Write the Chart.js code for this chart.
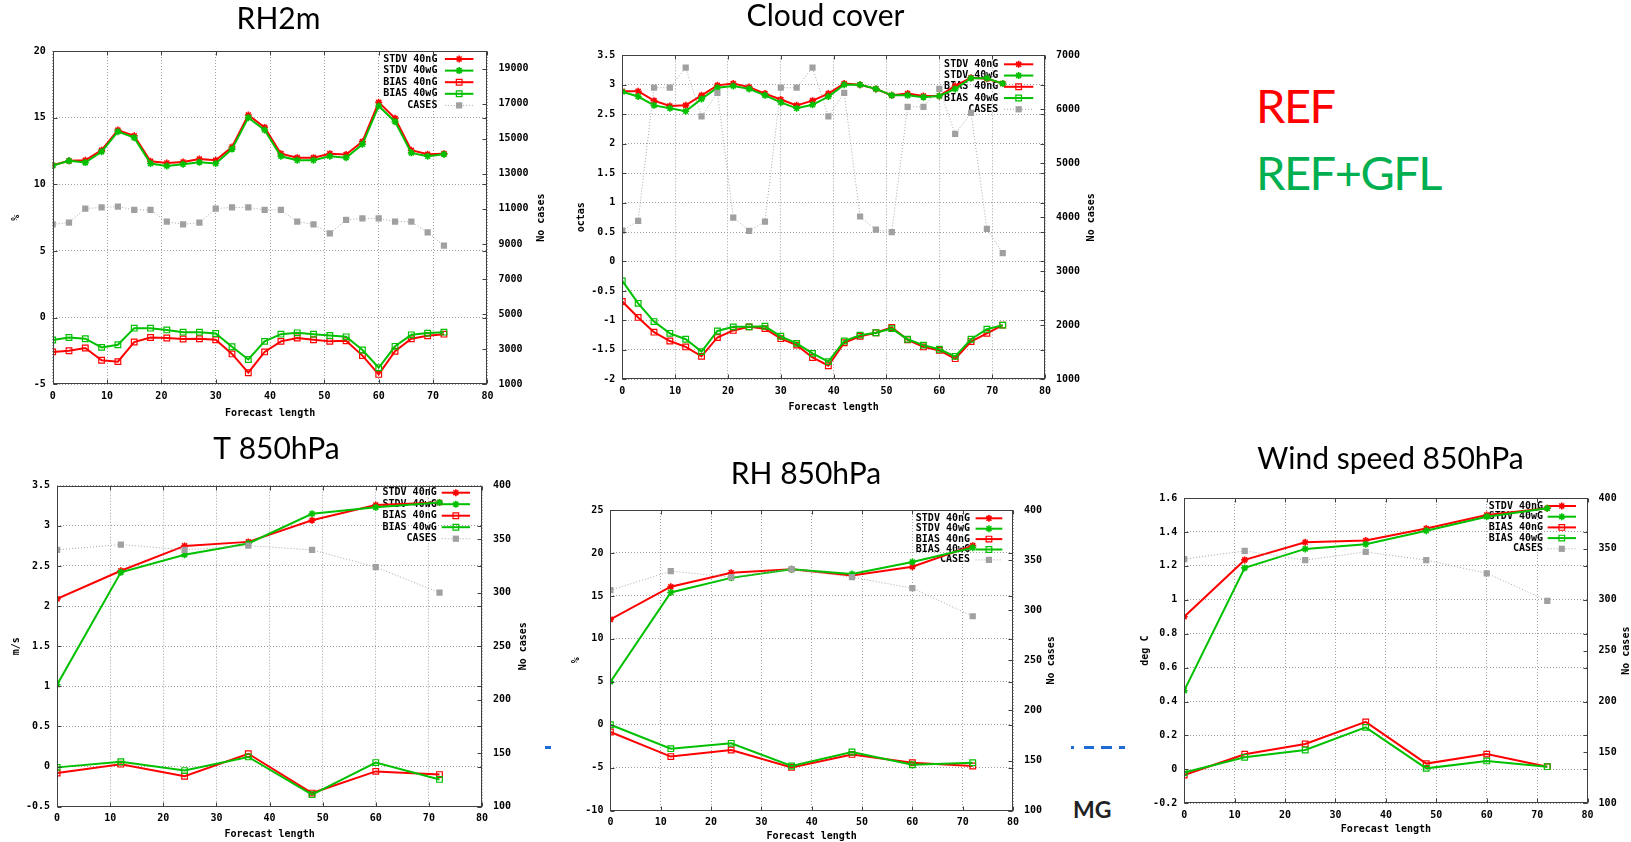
<!DOCTYPE html>
<html>
<head>
<meta charset="utf-8">
<title>REF vs REF+GFL verification scores</title>
<script src="https://cdn.jsdelivr.net/npm/chart.js@4.4.0/dist/chart.umd.min.js"></script>
<style>
  html, body { margin: 0; padding: 0; background: #fff; }
  body { position: relative; width: 1631px; height: 842px; overflow: hidden; }
  canvas { position: absolute; }
  .txt { position: absolute; font-family: Lato, "Open Sans", sans-serif; line-height: 1; white-space: nowrap; }
  .big { font-size: 47px; letter-spacing: -1.5px; }
  .dash { position: absolute; height: 3px; background: #1f6bd6; }
</style>
</head>
<body>
<div class="txt big" style="left:1256px; top:82px; color:#ff0000;">REF</div>
<div class="txt big" style="left:1256px; top:149px; color:#00b050;">REF+GFL</div>
<div class="txt" style="left:1073px; top:798px; font-size:23px; font-weight:700; color:#222;">MG</div>
<div class="dash" style="left:545px; top:746px; width:6px;"></div>
<div class="dash" style="left:1071px; top:746px; width:3px;"></div>
<div class="dash" style="left:1084px; top:746px; width:10px;"></div>
<div class="dash" style="left:1101px; top:746px; width:11px;"></div>
<div class="dash" style="left:1119px; top:746px; width:6px;"></div>

<script>
// ---- forecast lead times (hours) ----
const leadHours3h = [0, 3, 6, 9, 12, 15, 18, 21, 24, 27, 30, 33, 36, 39, 42, 45, 48, 51, 54, 57, 60, 63, 66, 69, 72];
const leadHours12h = [0, 12, 24, 36, 48, 60, 72];
const seriesLabels = ['STDV 40nG', 'STDV 40wG', 'BIAS 40nG', 'BIAS 40wG', 'CASES'];

// ---- tick values ----
const forecastTicks = [0, 10, 20, 30, 40, 50, 60, 70, 80];
const rh2mTicks = [-5, 0, 5, 10, 15, 20];
const rh2mCaseTicks = [1000, 3000, 5000, 7000, 9000, 11000, 13000, 15000, 17000, 19000];
const cloudTicks = [-2, -1.5, -1, -0.5, 0, 0.5, 1, 1.5, 2, 2.5, 3, 3.5];
const cloudCaseTicks = [1000, 2000, 3000, 4000, 5000, 6000, 7000];
const t850Ticks = [-0.5, 0, 0.5, 1, 1.5, 2, 2.5, 3, 3.5];
const rh850Ticks = [-10, -5, 0, 5, 10, 15, 20, 25];
const windTicks = [-0.2, 0, 0.2, 0.4, 0.6, 0.8, 1, 1.2, 1.4, 1.6];
const upperCaseTicks = [100, 150, 200, 250, 300, 350, 400];

// ---- RH2m ----
const rh2mStdvNoGfl = [11.43, 11.76, 11.8, 12.56, 14.07, 13.64, 11.73, 11.6, 11.68, 11.9, 11.8, 12.8, 15.2, 14.27, 12.3, 12.0, 12.0, 12.3, 12.24, 13.2, 16.15, 14.95, 12.56, 12.26, 12.3];
const rh2mStdvGfl   = [11.4, 11.76, 11.63, 12.44, 13.95, 13.5, 11.56, 11.38, 11.5, 11.66, 11.56, 12.64, 15.0, 14.07, 12.1, 11.8, 11.8, 12.1, 12.0, 13.0, 15.88, 14.7, 12.36, 12.1, 12.26];
const rh2mBiasNoGfl = [-2.57, -2.48, -2.28, -3.2, -3.3, -1.83, -1.49, -1.53, -1.6, -1.58, -1.66, -2.72, -4.13, -2.57, -1.78, -1.53, -1.66, -1.78, -1.73, -2.85, -4.26, -2.52, -1.58, -1.36, -1.24];
const rh2mBiasGfl   = [-1.68, -1.49, -1.58, -2.23, -2.03, -0.79, -0.79, -0.92, -1.09, -1.09, -1.19, -2.18, -3.14, -1.78, -1.24, -1.14, -1.24, -1.34, -1.44, -2.43, -3.76, -2.15, -1.29, -1.16, -1.09];
const rh2mCases     = [10120, 10220, 11020, 11080, 11130, 10940, 10940, 10270, 10120, 10220, 11020, 11080, 11080, 10940, 10940, 10270, 10120, 9600, 10370, 10460, 10460, 10270, 10270, 9660, 8900];

// ---- Cloud cover ----
const cloudStdvNoGfl = [2.89, 2.89, 2.73, 2.64, 2.65, 2.82, 2.99, 3.02, 2.96, 2.85, 2.75, 2.65, 2.73, 2.85, 3.02, 3.0, 2.93, 2.82, 2.85, 2.81, 2.81, 2.98, 3.12, 3.10, 3.02];
const cloudStdvGfl   = [2.88, 2.8, 2.65, 2.6, 2.55, 2.76, 2.95, 2.98, 2.93, 2.82, 2.7, 2.6, 2.66, 2.8, 3.0, 3.0, 2.93, 2.82, 2.82, 2.79, 2.81, 2.93, 3.11, 3.11, 3.02];
const cloudBiasNoGfl = [-0.68, -0.95, -1.2, -1.35, -1.45, -1.61, -1.29, -1.17, -1.11, -1.14, -1.31, -1.42, -1.63, -1.77, -1.38, -1.27, -1.21, -1.12, -1.33, -1.45, -1.51, -1.65, -1.36, -1.22, -1.08];
const cloudBiasGfl   = [-0.33, -0.71, -1.02, -1.22, -1.32, -1.53, -1.18, -1.11, -1.11, -1.1, -1.27, -1.39, -1.56, -1.7, -1.35, -1.25, -1.21, -1.14, -1.32, -1.42, -1.49, -1.61, -1.32, -1.15, -1.08];
const cloudCases     = [3755, 3935, 6400, 6400, 6770, 5870, 6305, 3995, 3750, 3920, 6400, 6400, 6770, 5870, 6305, 4015, 3770, 3725, 6045, 6045, 6380, 5545, 5935, 3785, 3335];

// ---- T 850hPa ----
const t850StdvNoGfl = [2.09, 2.44, 2.75, 2.80, 3.07, 3.26, 3.29];
const t850StdvGfl   = [1.02, 2.42, 2.64, 2.78, 3.15, 3.23, 3.29];
const t850BiasNoGfl = [-0.08, 0.03, -0.12, 0.16, -0.33, -0.06, -0.10];
const t850BiasGfl   = [-0.01, 0.06, -0.05, 0.12, -0.35, 0.05, -0.16];
const t850Cases     = [340, 345, 340, 344, 340, 324, 300];

// ---- RH 850hPa ----
const rh850StdvNoGfl = [12.27, 16.07, 17.7, 18.09, 17.39, 18.4, 20.85];
const rh850StdvGfl   = [5.0, 15.4, 17.1, 18.1, 17.55, 18.95, 20.6];
const rh850BiasNoGfl = [-0.84, -3.7, -2.94, -4.96, -3.45, -4.42, -4.8];
const rh850BiasGfl   = [0.0, -2.78, -2.16, -4.8, -3.17, -4.65, -4.42];
const rh850Cases     = [320, 339, 333, 341, 333, 322, 294];

// ---- Wind speed 850hPa ----
const windStdvNoGfl = [0.90, 1.235, 1.339, 1.349, 1.42, 1.50, 1.54];
const windStdvGfl   = [0.464, 1.188, 1.30, 1.327, 1.407, 1.49, 1.54];
const windBiasNoGfl = [-0.033, 0.089, 0.15, 0.28, 0.034, 0.09, 0.016];
const windBiasGfl   = [-0.019, 0.071, 0.114, 0.248, 0.006, 0.05, 0.016];
const windCases     = [340, 348, 339, 347, 339, 326, 299];

// ---- panel layout ----
const panels = [
  { title: 'RH2m', yTitle: '%', xs: leadHours3h,
    series: [rh2mStdvNoGfl, rh2mStdvGfl, rh2mBiasNoGfl, rh2mBiasGfl], cases: rh2mCases,
    yTicks: rh2mTicks, yRange: [-5, 20], y2Ticks: rh2mCaseTicks, y2Range: [1000, 20000],
    box: { l: 0, t: 0, w: 557, h: 420 }, padTop: 1, padLeft: 0, titleGap: 14,
    yW: 52.7, y2W: 69.6, xH: 35.7, yTitleDx: 36.7, y2TitleDx: 53.6, xTitleDy: 29,
    key: { text: 50, from: 42.5, to: 14, row0: 8, step: 11.6 } },
  { title: 'Cloud cover', yTitle: 'octas', xs: leadHours3h,
    series: [cloudStdvNoGfl, cloudStdvGfl, cloudBiasNoGfl, cloudBiasGfl], cases: cloudCases,
    yTicks: cloudTicks, yRange: [-2, 3.5], y2Ticks: cloudCaseTicks, y2Range: [1000, 7000],
    box: { l: 550, t: -2, w: 551, h: 422 }, padTop: 0.8, padLeft: 0, titleGap: 20.5,
    yW: 72.3, y2W: 56, xH: 40.7, yTitleDx: 41.3, y2TitleDx: 46.6, xTitleDy: 28,
    key: { text: 46.7, from: 41, to: 11.7, row0: 9, step: 11.25 } },
  { title: 'T 850hPa', yTitle: 'm/s', xs: leadHours12h,
    series: [t850StdvNoGfl, t850StdvGfl, t850BiasNoGfl, t850BiasGfl], cases: t850Cases,
    yTicks: t850Ticks, yRange: [-0.5, 3.5], y2Ticks: upperCaseTicks, y2Range: [100, 400],
    box: { l: 0, t: 420, w: 553, h: 422 }, padTop: 11.8, padLeft: 0, titleGap: 17.9,
    yW: 57.1, y2W: 71, xH: 35.3, yTitleDx: 41.1, y2TitleDx: 41, xTitleDy: 27.6,
    key: { text: 45.3, from: 40.3, to: 12, row0: 7, step: 11.5 } },
  { title: 'RH 850hPa', yTitle: '%', xs: leadHours12h,
    series: [rh850StdvNoGfl, rh850StdvGfl, rh850BiasNoGfl, rh850BiasGfl], cases: rh850Cases,
    yTicks: rh850Ticks, yRange: [-10, 25], y2Ticks: upperCaseTicks, y2Range: [100, 400],
    box: { l: 550, t: 430, w: 512, h: 412 }, padTop: 26, padLeft: 0, titleGap: 18,
    yW: 60.4, y2W: 49, xH: 31.3, yTitleDx: 33.6, y2TitleDx: 38.6, xTitleDy: 26,
    key: { text: 43, from: 37.4, to: 10.7, row0: 8.3, step: 10.4 } },
  { title: 'Wind speed 850hPa', yTitle: 'deg C', xs: leadHours12h,
    series: [windStdvNoGfl, windStdvGfl, windBiasNoGfl, windBiasGfl], cases: windCases,
    yTicks: windTicks, yRange: [-0.2, 1.6], y2Ticks: upperCaseTicks, y2Range: [100, 400],
    box: { l: 1130, t: 420, w: 501, h: 422 }, padTop: 21.5, padLeft: 20, titleGap: 20.5,
    yW: 34.2, y2W: 43.4, xH: 38.7, yTitleDx: 38.9, y2TitleDx: 38.4, xTitleDy: 26,
    key: { text: 44.6, from: 40, to: 11.6, row0: 8, step: 10.7 } }
];

const RED = '#ff0000', GREEN = '#00c000', CASE_GREY = '#a0a0a0';
const MONO = "'DejaVu Sans Mono', monospace";
const monoFont = { family: MONO, size: 10, weight: 'bold' };
const fmtTick = v => String(Math.round(v * 1000) / 1000);

function points(xs, ys) { return xs.map((x, i) => ({ x: x, y: ys[i] })); }

// gnuplot-style marker used for the key samples
function drawMarker(ctx, ds, x, y) {
  const r = ds.pointRadius;
  ctx.save();
  ctx.setLineDash([]);
  ctx.lineWidth = ds.pointBorderWidth;
  ctx.strokeStyle = ds.pointBorderColor;
  ctx.fillStyle = ds.pointBackgroundColor;
  if (ds.pointStyle === 'star') {
    const d = r * Math.SQRT1_2;
    ctx.beginPath();
    ctx.moveTo(x - r, y); ctx.lineTo(x + r, y);
    ctx.moveTo(x, y - r); ctx.lineTo(x, y + r);
    ctx.moveTo(x - d, y - d); ctx.lineTo(x + d, y + d);
    ctx.moveTo(x - d, y + d); ctx.lineTo(x + d, y - d);
    ctx.stroke();
  } else {
    const s = r * Math.SQRT1_2;
    ctx.beginPath();
    ctx.rect(x - s, y - s, 2 * s, 2 * s);
    ctx.fill();
    if (ds.pointBorderWidth > 0) ctx.stroke();
  }
  ctx.restore();
}

// key, frame, inward ticks and axis titles in gnuplot fashion
function gnuplotDecor(p) {
  return {
    id: 'gnuplotDecor',
    beforeDatasetsDraw(chart) {
      const { ctx, chartArea: a } = chart;
      ctx.save();
      ctx.font = 'bold 10px ' + MONO;
      ctx.textAlign = 'right';
      ctx.textBaseline = 'middle';
      chart.data.datasets.forEach((ds, i) => {
        const y = a.top + p.key.row0 + i * p.key.step;
        ctx.fillStyle = '#000';
        ctx.fillText(ds.label, a.right - p.key.text, y);
        ctx.save();
        ctx.strokeStyle = ds.borderColor;
        ctx.lineWidth = ds.borderWidth;
        ctx.setLineDash(ds.borderDash || []);
        ctx.beginPath();
        ctx.moveTo(a.right - p.key.from, y);
        ctx.lineTo(a.right - p.key.to, y);
        ctx.stroke();
        ctx.restore();
        drawMarker(ctx, ds, a.right - (p.key.from + p.key.to) / 2, y);
      });
      ctx.restore();
    },
    afterDraw(chart) {
      const { ctx, chartArea: a, scales } = chart;
      const L = Math.round(a.left) + 0.5, R = Math.round(a.right) - 0.5;
      const T = Math.round(a.top) + 0.5, B = Math.round(a.bottom) - 0.5;
      const tl = 4;
      ctx.save();
      ctx.strokeStyle = '#404040';
      ctx.lineWidth = 1;
      ctx.beginPath();
      scales.y.ticks.forEach(t => {
        const py = Math.round(scales.y.getPixelForValue(t.value)) + 0.5;
        ctx.moveTo(L, py); ctx.lineTo(L + tl, py);
        ctx.moveTo(R, py); ctx.lineTo(R - tl, py);
      });
      scales.y2.ticks.forEach(t => {
        const py = Math.round(scales.y2.getPixelForValue(t.value)) + 0.5;
        ctx.moveTo(R, py); ctx.lineTo(R - tl, py);
      });
      scales.x.ticks.forEach(t => {
        const px = Math.round(scales.x.getPixelForValue(t.value)) + 0.5;
        ctx.moveTo(px, B); ctx.lineTo(px, B - tl);
        ctx.moveTo(px, T); ctx.lineTo(px, T + tl);
      });
      ctx.stroke();
      ctx.strokeRect(L, T, R - L, B - T);

      ctx.fillStyle = '#000';
      ctx.font = 'bold 10px ' + MONO;
      ctx.textAlign = 'center';
      ctx.textBaseline = 'middle';
      const midY = (a.top + a.bottom) / 2;
      ctx.fillText('Forecast length', (a.left + a.right) / 2, a.bottom + p.xTitleDy);
      ctx.save();
      ctx.translate(a.left - p.yTitleDx, midY);
      ctx.rotate(-Math.PI / 2);
      ctx.fillText(p.yTitle, 0, 0);
      ctx.restore();
      ctx.save();
      ctx.translate(a.right + p.y2TitleDx, midY);
      ctx.rotate(-Math.PI / 2);
      ctx.fillText('No cases', 0, 0);
      ctx.restore();
      ctx.restore();
    }
  };
}

function buildPanel(p) {
  const canvas = document.createElement('canvas');
  canvas.width = p.box.w;
  canvas.height = p.box.h;
  canvas.style.left = p.box.l + 'px';
  canvas.style.top = p.box.t + 'px';
  document.body.appendChild(canvas);

  const lineSet = (i, color, style) => ({
    label: seriesLabels[i],
    data: points(p.xs, p.series[i]),
    yAxisID: 'y',
    borderColor: color,
    borderWidth: 2,
    pointStyle: style,
    pointRadius: style === 'star' ? 3.5 : 4,
    pointBorderWidth: style === 'star' ? 1.6 : 1.2,
    pointBorderColor: color,
    pointBackgroundColor: style === 'star' ? color : 'rgba(255,255,255,0)',
    order: 5 - i
  });

  const datasets = [
    lineSet(0, RED, 'star'),
    lineSet(1, GREEN, 'star'),
    lineSet(2, RED, 'rect'),
    lineSet(3, GREEN, 'rect'),
    {
      label: seriesLabels[4],
      data: points(p.xs, p.cases),
      yAxisID: 'y2',
      borderColor: '#a8a8a8',
      borderWidth: 1,
      borderDash: [1, 2],
      pointStyle: 'rect',
      pointRadius: 4.4,
      pointBorderWidth: 0,
      pointBorderColor: CASE_GREY,
      pointBackgroundColor: CASE_GREY,
      order: 1
    }
  ];

  const setTicks = list => axis => { axis.ticks = list.map(v => ({ value: v })); };

  new Chart(canvas, {
    type: 'line',
    data: { datasets: datasets },
    plugins: [gnuplotDecor(p)],
    options: {
      responsive: false,
      devicePixelRatio: 1,
      animation: false,
      events: [],
      layout: { padding: { top: p.padTop, left: p.padLeft, right: 0, bottom: 0 } },
      elements: { line: { tension: 0 } },
      plugins: {
        legend: { display: false },
        tooltip: { enabled: false },
        title: {
          display: true,
          text: p.title,
          color: '#000',
          font: { family: 'Lato, "Open Sans", sans-serif', size: 30, weight: 'normal', lineHeight: 1.2 },
          padding: { top: 0, bottom: p.titleGap }
        }
      },
      scales: {
        x: {
          type: 'linear', position: 'bottom', min: 0, max: 80,
          afterBuildTicks: setTicks(forecastTicks),
          afterFit: s => { s.height = p.xH; },
          grid: { color: '#a0a0a0', lineWidth: 1, drawTicks: false },
          border: { display: false, dash: [1, 2] },
          ticks: { padding: 6, color: '#000', font: monoFont, callback: fmtTick, maxRotation: 0, autoSkip: false }
        },
        y: {
          type: 'linear', position: 'left', min: p.yRange[0], max: p.yRange[1],
          afterBuildTicks: setTicks(p.yTicks),
          afterFit: s => { s.width = p.yW; },
          grid: { color: '#a0a0a0', lineWidth: 1, drawTicks: false },
          border: { display: false, dash: [1, 2] },
          ticks: { padding: 7, color: '#000', font: monoFont, callback: fmtTick, autoSkip: false }
        },
        y2: {
          type: 'linear', position: 'right', min: p.y2Range[0], max: p.y2Range[1],
          afterBuildTicks: setTicks(p.y2Ticks),
          afterFit: s => { s.width = p.y2W; },
          grid: { display: false, drawTicks: false },
          border: { display: false },
          ticks: { padding: 11, color: '#000', font: monoFont, callback: fmtTick, autoSkip: false }
        }
      }
    }
  });
}

panels.forEach(buildPanel);
</script>
</body>
</html>
